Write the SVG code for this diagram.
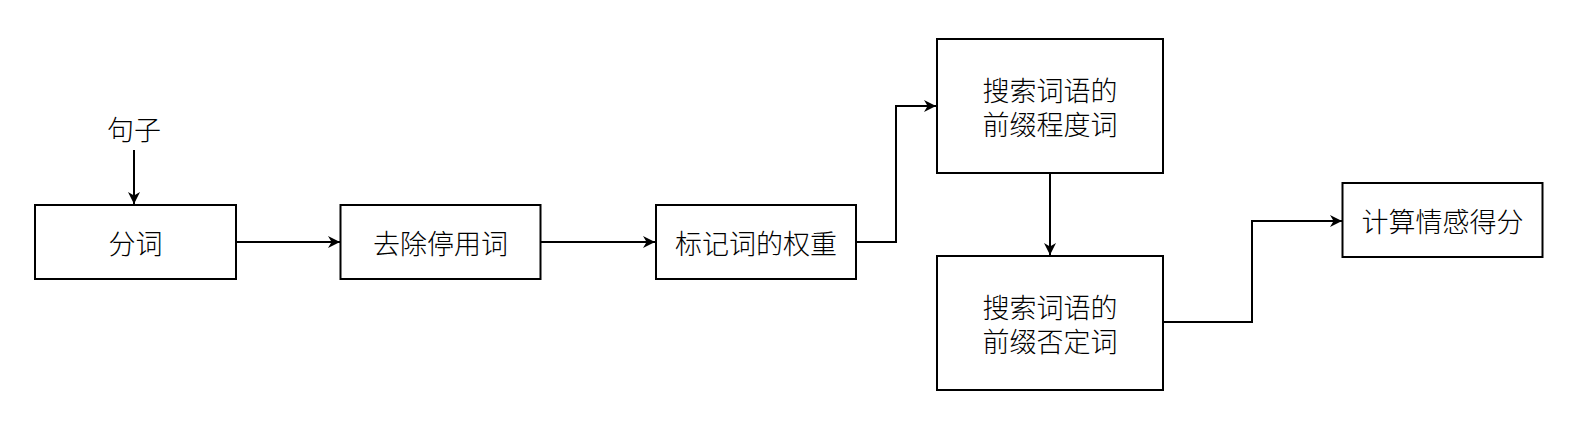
<svg xmlns="http://www.w3.org/2000/svg" width="1575" height="433" viewBox="0 0 1575 433">
<defs>
<style>
.box{fill:#fff;stroke:#000;stroke-width:2}
.t{font-family:"Noto Sans CJK SC","Noto Sans",sans-serif;font-size:27px;font-weight:300;fill:#000;text-anchor:middle;dominant-baseline:central}
.c{fill:none;stroke:#000;stroke-width:2}
</style>
<marker id="ah" markerWidth="12" markerHeight="12" refX="10" refY="5" orient="auto" markerUnits="userSpaceOnUse" viewBox="0 0 10 10">
<path d="M0,0 L10,5 L0,10 L3,5 z" fill="#000"/>
</marker>
</defs>
<rect width="1575" height="433" fill="#fff"/>
<g id="connectors">
<path class="c" d="M134,150 V204" marker-end="url(#ah)"/>
<path class="c" d="M236,242 H340" marker-end="url(#ah)"/>
<path class="c" d="M541,242 H655" marker-end="url(#ah)"/>
<path class="c" d="M856,242 H896 V106 H936" marker-end="url(#ah)"/>
<path class="c" d="M1050,173 V255" marker-end="url(#ah)"/>
<path class="c" d="M1163,322 H1252 V221 H1342" marker-end="url(#ah)"/>
</g>
<g id="input"><text class="t" x="134" y="128">句子</text></g>
<g id="n1"><rect class="box" x="35" y="205" width="201" height="74"/><text class="t" x="135.5" y="242">分词</text></g>
<g id="n2"><rect class="box" x="340.5" y="205" width="200" height="74"/><text class="t" x="440.5" y="242">去除停用词</text></g>
<g id="n3"><rect class="box" x="656" y="205" width="200" height="74"/><text class="t" x="756" y="242">标记词的权重</text></g>
<g id="n4"><rect class="box" x="937" y="39" width="226" height="134"/><text class="t" x="1050" y="89.5">搜索词语的<tspan x="1050" dy="33">前缀程度词</tspan></text></g>
<g id="n5"><rect class="box" x="937" y="256" width="226" height="134"/><text class="t" x="1050" y="306.5">搜索词语的<tspan x="1050" dy="33">前缀否定词</tspan></text></g>
<g id="n6"><rect class="box" x="1342.5" y="183" width="200" height="74"/><text class="t" x="1442.5" y="220">计算情感得分</text></g>
</svg>
